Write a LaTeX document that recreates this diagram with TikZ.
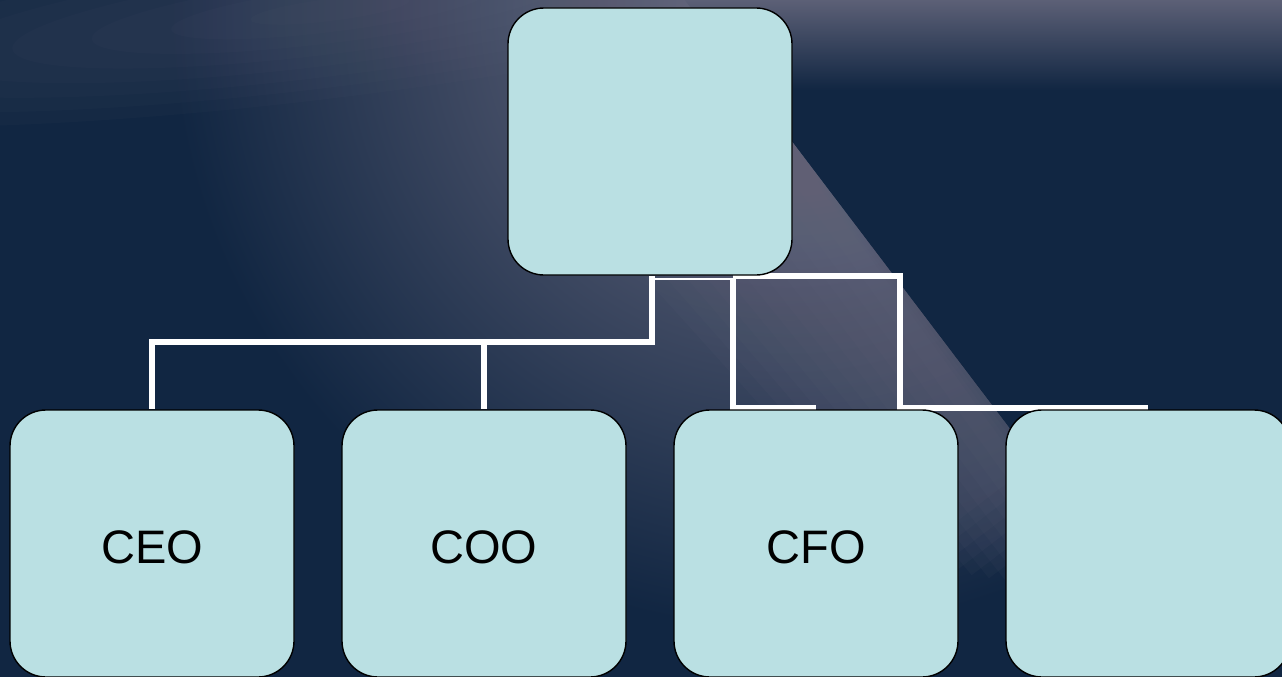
\documentclass[tikz,border=0pt]{standalone}
\usepackage{fontspec}
\setmainfont{Liberation Sans}
\definecolor{navy}{RGB}{17,38,66}
\definecolor{glow}{RGB}{112,111,132}
\definecolor{boxfill}{RGB}{186,224,227}
\begin{document}
\begin{tikzpicture}[x=1pt,y=-1pt,
  box/.style={draw=black, line width=1.4pt, fill=boxfill, rounded corners=36pt,
    minimum width=284pt, minimum height=267pt, inner sep=0pt},
  lbl/.style={font=\fontsize{47}{50}\selectfont, text=black, inner sep=0pt},
  conn/.style={draw=white, line width=5.5pt},
  connthin/.style={draw=white, line width=2.5pt}]
\useasboundingbox (0,0) rectangle (1282,677);
\begin{scope}
\clip (0,0) rectangle (1282,677);
% background
\fill[navy] (0,0) rectangle (1282,677);
\shade[top color=glow!80!navy, bottom color=navy] (600,-1) rectangle (1283,90);
\begin{scope}
\clip (-10,-10) -- (677,-10) -- (1206,687) -- (-10,687) -- cycle;
\shade[inner color=glow, outer color=navy] (790,10) circle (620pt);
\foreach \i in {1,...,8}
  \fill[glow, opacity=0.045, rotate around={7:(330,10)}] (330,10) ellipse ({80*\i pt} and {11*\i pt});
\foreach \i in {1,...,12}
  \fill[glow, opacity=0.06] (684,0) -- ({1110-3*\i},{600-14*\i}) -- ++({-14.3*\i},{10.9*\i}) -- ({684-14.3*\i},{10.9*\i}) -- cycle;
\end{scope}
% connector joints
\coordinate (j1) at (652,342);
\coordinate (j2) at (652,279);
\coordinate (j3) at (733,279);
\coordinate (j4) at (733,276);
\coordinate (j5) at (900,276);
% nodes (positions)
\path (650,141.5) node[box, draw=none, fill=none] (top) {}
      (152,543.5) node[box, draw=none, fill=none] (ceo) {}
      (484,543.5) node[box, draw=none, fill=none] (coo) {}
      (816,543.5) node[box, draw=none, fill=none] (cfo) {}
      (1148,543.5) node[box, draw=none, fill=none] (fourth) {};
% connectors
\draw[conn] (top.south -| j1) -- (j1) -| (ceo.north);
\draw[conn] (j1) -| (coo.north);
\draw[connthin] (j2) -- (j3);
\draw[conn] (j3) |- ([yshift=1.5pt]cfo.north);
\draw[connthin] ([yshift=1.5pt]cfo.north -| j3) -- ([yshift=1.5pt]cfo.north);
\draw[conn] (j4) -- (j5) |- ([yshift=1.5pt]fourth.north);
\draw[connthin] ([yshift=1.5pt]fourth.north -| j5) -- ([yshift=1.5pt]fourth.north);
% boxes
\node[box] (topbox) at (top) {};
\node[box] (ceobox) at (ceo) {};
\node[box] (coobox) at (coo) {};
\node[box] (cfobox) at (cfo) {};
\node[box] (fourthbox) at (fourth) {};
\node[lbl] (ceotext) at ([yshift=-3.5pt]ceo.center) {CEO};
\node[lbl] (cootext) at ([yshift=-3.5pt]coo.center) {COO};
\node[lbl] (cfotext) at ([yshift=-3.5pt]cfo.center) {CFO};
\end{scope}
\end{tikzpicture}
\end{document}
